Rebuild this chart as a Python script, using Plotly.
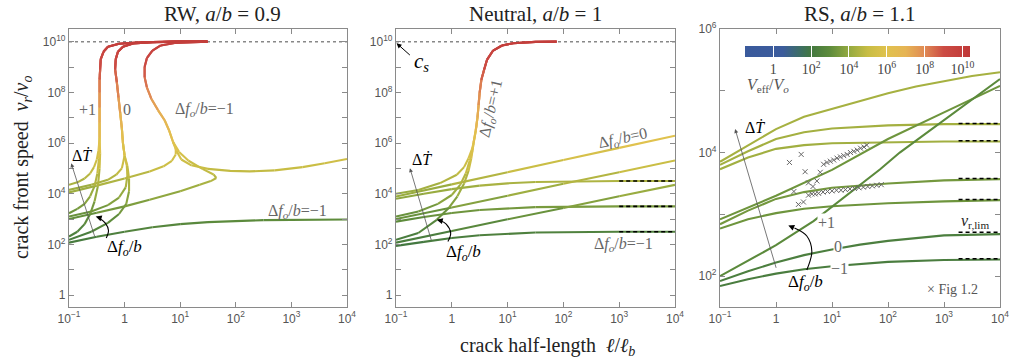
import numpy as np
import plotly.graph_objects as go

# =================== DATA (log10 exponents) ===================
# x = log10(l/l_b), y = log10(v_r/v_o)

# ---- Panel RW (a/b = 0.9) ----
RW_UP_PLUS_X = [-0.45, -0.45, -0.45, -0.45, -0.45, -0.44, -0.43, -0.38, -0.30, -0.10, 0.30, 0.90, 1.49]
RW_UP_PLUS_Y = [6.2, 6.8, 7.4, 8.0, 8.5, 8.9, 9.3, 9.6, 9.8, 9.92, 9.98, 10.0, 10.0]
RW_UP_ZERO_X = [0.00, -0.03, -0.05, -0.08, -0.11, -0.14, -0.17, -0.16, -0.12, -0.03, 0.15, 0.50, 1.00, 1.49]
RW_UP_ZERO_Y = [5.5, 6.0, 6.6, 7.2, 7.8, 8.4, 8.9, 9.3, 9.6, 9.8, 9.93, 9.98, 10.0, 10.0]
RW_UP_MINUS_X = [0.87, 0.80, 0.72, 0.60, 0.48, 0.40, 0.36, 0.36, 0.40, 0.50, 0.65, 0.90, 1.20, 1.49]
RW_UP_MINUS_Y = [6.05, 6.5, 6.9, 7.3, 7.75, 8.2, 8.6, 9.0, 9.35, 9.65, 9.85, 9.95, 9.99, 10.0]

RW_HI_PLUS_X = [-1.0, -0.85, -0.72, -0.62, -0.55, -0.50, -0.47]
RW_HI_PLUS_Y = [4.35, 4.45, 4.6, 4.8, 5.05, 5.35, 5.7]
RW_MID_PLUS_X = [-1.0, -0.85, -0.72, -0.62, -0.54, -0.49, -0.46]
RW_MID_PLUS_Y = [3.23, 3.4, 3.6, 3.9, 4.3, 4.8, 5.4]
RW_LO_PLUS_X = [-1.0, -0.85, -0.72, -0.62, -0.54, -0.48, -0.45, -0.44]
RW_LO_PLUS_Y = [2.31, 2.5, 2.8, 3.2, 3.7, 4.3, 5.0, 5.6]

RW_HI_ZERO_X = [-1.0, -0.6, -0.3, -0.15, -0.05]
RW_HI_ZERO_Y = [4.15, 4.35, 4.55, 4.75, 5.0]
RW_MID_ZERO_X = [-1.0, -0.6, -0.3, -0.1, 0.02, 0.05, 0.04]
RW_MID_ZERO_Y = [3.1, 3.3, 3.55, 3.85, 4.25, 4.7, 5.1]
RW_LO_ZERO_X = [-1.0, -0.6, -0.3, -0.1, 0.03, 0.08, 0.08, 0.05]
RW_LO_ZERO_Y = [2.18, 2.5, 2.85, 3.2, 3.6, 4.1, 4.6, 5.1]

RW_HI_MINUS_X = [-1.0, -0.5, 0.0, 0.45, 0.70, 0.85, 0.92, 0.92]
RW_HI_MINUS_Y = [4.05, 4.32, 4.6, 4.88, 5.08, 5.3, 5.55, 5.8]
RW_MID_MINUS_X = [-1.0, -0.5, 0.0, 0.45, 1.0, 1.35, 1.55, 1.65, 1.60, 1.40, 1.15, 0.98]
RW_MID_MINUS_Y = [3.0, 3.25, 3.5, 3.76, 4.1, 4.35, 4.5, 4.62, 4.76, 4.98, 5.3, 5.65]
RW_BRANCH_X = [0.87, 0.93, 1.02, 1.2, 1.5, 1.9, 2.25, 2.7, 3.2, 3.6, 4.0]
RW_BRANCH_Y = [6.05, 5.7, 5.35, 5.12, 4.98, 4.9, 4.88, 4.92, 5.05, 5.2, 5.37]
RW_LO_MINUS_X = [-1.0, -0.5, 0.0, 0.5, 1.0, 1.5, 2.0, 2.5, 3.0, 4.0]
RW_LO_MINUS_Y = [2.07, 2.3, 2.5, 2.68, 2.8, 2.88, 2.93, 2.96, 2.97, 2.98]

# ---- Panel Neutral (a/b = 1) ----
NE_UP_X = [0.39, 0.43, 0.46, 0.48, 0.50, 0.53, 0.58, 0.63, 0.74, 0.90, 1.10, 1.50, 1.88]
NE_UP_Y = [6.0, 6.5, 7.0, 7.5, 8.0, 8.5, 8.9, 9.28, 9.65, 9.85, 9.94, 9.99, 10.0]
NE_HI_PLUS_X = [-1.0, -0.6, -0.21, 0.09, 0.22, 0.30, 0.36]
NE_HI_PLUS_Y = [4.0, 4.15, 4.42, 4.75, 5.05, 5.4, 5.75]
NE_MID_PLUS_X = [-1.0, -0.6, -0.25, 0.0, 0.15, 0.25, 0.32, 0.37]
NE_MID_PLUS_Y = [3.1, 3.3, 3.6, 3.95, 4.35, 4.8, 5.3, 5.7]
NE_LO_PLUS_X = [-1.0, -0.6, -0.27, -0.05, 0.10, 0.22, 0.30, 0.35]
NE_LO_PLUS_Y = [2.18, 2.45, 2.97, 3.45, 3.9, 4.4, 4.9, 5.4]
NE_ZERO_X = [-1.0, 0.0, 1.0, 2.0, 3.0, 4.0]
NE_HI_ZERO_Y = [3.89, 4.37, 4.85, 5.33, 5.81, 6.29]
NE_MID_ZERO_Y = [3.0, 3.46, 3.92, 4.39, 4.85, 5.31]
NE_LO_ZERO_Y = [2.07, 2.53, 2.99, 3.44, 3.9, 4.35]
NE_MINUS_X = [-1.0, -0.5, 0.0, 0.5, 1.0, 1.5, 2.0, 3.0, 4.0]
NE_HI_MINUS_Y = [3.8, 4.0, 4.18, 4.32, 4.41, 4.46, 4.48, 4.5, 4.5]
NE_MID_MINUS_Y = [2.9, 3.08, 3.24, 3.36, 3.43, 3.47, 3.49, 3.5, 3.5]
NE_LO_MINUS_Y = [1.94, 2.1, 2.25, 2.36, 2.43, 2.47, 2.49, 2.5, 2.5]
NE_LIMIT_Y = [4.5, 3.5, 2.5]

# ---- Panel RS (a/b = 1.1) ----
RS_T1_X = [-1.0, -0.5, 0.0, 0.5, 1.0, 1.5, 2.0, 2.5, 3.0, 3.5, 4.0]
RS_T1_Y = [3.85, 4.12, 4.38, 4.58, 4.71, 4.83, 4.96, 5.07, 5.16, 5.24, 5.3]
RS_SAT_X = [-1.0, -0.5, 0.0, 0.5, 1.0, 1.5, 2.0, 3.0, 4.0]
RS_T2_Y = [3.8, 4.02, 4.22, 4.33, 4.39, 4.42, 4.44, 4.46, 4.46]
RS_T3_Y = [3.73, 3.92, 4.06, 4.12, 4.15, 4.16, 4.17, 4.18, 4.18]
RS_M0_Y = [2.84, 3.06, 3.25, 3.36, 3.43, 3.47, 3.5, 3.55, 3.57]
RS_M1_Y = [2.77, 2.92, 3.02, 3.09, 3.13, 3.16, 3.18, 3.21, 3.23]
RS_B0_Y = [1.92, 2.08, 2.22, 2.34, 2.43, 2.51, 2.57, 2.66, 2.68]
RS_B1_Y = [1.84, 1.95, 2.04, 2.11, 2.16, 2.2, 2.23, 2.26, 2.27]
RS_S1_X = [-1.0, 0.0, 1.0, 2.0, 3.0, 4.0]
RS_S1_Y = [2.92, 3.3, 3.72, 4.22, 4.65, 5.08]
RS_S2_X = [-1.0, 0.0, 0.67, 1.0, 1.86, 2.21, 2.9, 4.0]
RS_S2_Y = [2.0, 2.5, 2.89, 3.12, 3.73, 4.0, 4.46, 5.19]
# colour level of each RS curve, log10(V_eff/V_o): T1, T2, T3, M0, M1, B0, B1, S1, S2
RS_VEFF = [4.35, 4.3, 4.25, 3.4, 3.3, 2.35, 2.25, 3.3, 2.9]
RS_LIMIT_Y = [4.47, 4.19, 3.58, 3.24, 2.71, 2.28]
FIG12_X = [0.24, 0.45, 0.52, 0.79, 0.58, 0.66, 0.73, 0.32, 0.40, 0.49,
           0.85, 0.91, 0.97, 1.03, 1.09, 1.15, 1.21, 1.27, 1.33, 1.39, 1.45, 1.51, 1.57, 1.62,
           0.58, 0.64, 0.70, 0.76, 0.84, 0.92, 1.00, 1.08, 1.16, 1.24, 1.32, 1.40, 1.48, 1.56, 1.64, 1.72, 1.80, 1.88]
FIG12_Y = [3.84, 3.97, 3.69, 3.68, 3.51, 3.45, 3.54, 3.37, 3.16, 3.2,
           3.81, 3.84, 3.86, 3.88, 3.91, 3.93, 3.95, 3.97, 4.0, 4.02, 4.04, 4.07, 4.09, 4.12,
           3.31, 3.33, 3.33, 3.34, 3.36, 3.37, 3.38, 3.39, 3.39, 3.4, 3.41, 3.42, 3.43, 3.44, 3.45, 3.46, 3.47, 3.48]

CS_LIGHT = 10.0          # speed of shear waves, c_s (log10)
X_TICK_EXP = [-1, 0, 1, 2, 3, 4]
X_TICK_TEXT = ['10<sup>−1</sup>', '1', '10<sup>1</sup>', '10<sup>2</sup>', '10<sup>3</sup>', '10<sup>4</sup>']
Y12_TICK_EXP = list(range(0, 11))
Y3_TICK_EXP = [2, 3, 4, 5, 6]
CB_TICK_EXP = [0, 2, 4, 6, 8, 10]
CB_TICK_TEXT = ['1', '10<sup>2</sup>', '10<sup>4</sup>', '10<sup>6</sup>', '10<sup>8</sup>', '10<sup>10</sup>']

# =================== STYLE ===================
STOPS = [(-1.5, '#3a5a9c'), (0.5, '#3c5c9c'), (1.5, '#3d7060'), (2.0, '#437840'), (3.0, '#5e8c3c'),
         (4.0, '#94aa40'), (5.0, '#c8bd44'), (6.0, '#e0c24e'), (7.0, '#e6b454'), (8.0, '#e08a54'),
         (9.0, '#cc4c44'), (10.4, '#c03838')]
CMIN, CMAX = -1.5, 10.4
SERIF = 'Liberation Serif'
SANS = 'Liberation Sans'
AXC = '#8a8a8a'


def hex2rgb(h):
    return tuple(int(h[i:i + 2], 16) for i in (1, 3, 5))


def cmap(v):
    if v <= STOPS[0][0]:
        return STOPS[0][1]
    for (a, ca), (b, cb) in zip(STOPS[:-1], STOPS[1:]):
        if v <= b:
            t = (v - a) / (b - a)
            r1, r2 = hex2rgb(ca), hex2rgb(cb)
            return 'rgb(%d,%d,%d)' % tuple(round(r1[i] + (r2[i] - r1[i]) * t) for i in range(3))
    return STOPS[-1][1]


COLORSCALE = [[(v - CMIN) / (CMAX - CMIN), c] for v, c in STOPS]

fig = go.Figure()


def add_gradient(curves, ax):
    bins = {}
    for lx, ly in curves:
        cur, pts = None, []
        for i in range(len(lx) - 1):
            b = round((ly[i] + ly[i + 1]) / 2 * 10) / 10
            if b != cur:
                if pts:
                    bins.setdefault(cur, []).append(pts)
                pts = [(lx[i], ly[i])]
                cur = b
            pts.append((lx[i + 1], ly[i + 1]))
        if pts:
            bins.setdefault(cur, []).append(pts)
    for b in sorted(bins):
        xs, ys = [], []
        for run in bins[b]:
            xs += [10 ** p[0] for p in run] + [None]
            ys += [10 ** p[1] for p in run] + [None]
        fig.add_trace(go.Scatter(x=xs, y=ys, mode='lines', line=dict(color=cmap(b), width=2.1),
                                 xaxis='x' + ax, yaxis='y' + ax, showlegend=False, hoverinfo='skip'))


def join(a, b):
    return a + b


rw = [
    (join(RW_HI_PLUS_X, RW_UP_PLUS_X), join(RW_HI_PLUS_Y, RW_UP_PLUS_Y)),
    (join(RW_MID_PLUS_X, RW_UP_PLUS_X), join(RW_MID_PLUS_Y, RW_UP_PLUS_Y)),
    (join(RW_LO_PLUS_X, RW_UP_PLUS_X), join(RW_LO_PLUS_Y, RW_UP_PLUS_Y)),
    (join(RW_HI_ZERO_X, RW_UP_ZERO_X), join(RW_HI_ZERO_Y, RW_UP_ZERO_Y)),
    (join(RW_MID_ZERO_X, RW_UP_ZERO_X), join(RW_MID_ZERO_Y, RW_UP_ZERO_Y)),
    (join(RW_LO_ZERO_X, RW_UP_ZERO_X), join(RW_LO_ZERO_Y, RW_UP_ZERO_Y)),
    (join(RW_HI_MINUS_X, RW_UP_MINUS_X), join(RW_HI_MINUS_Y, RW_UP_MINUS_Y)),
    (join(RW_MID_MINUS_X, RW_UP_MINUS_X), join(RW_MID_MINUS_Y, RW_UP_MINUS_Y)),
    (RW_BRANCH_X, RW_BRANCH_Y),
    (RW_LO_MINUS_X, RW_LO_MINUS_Y),
]
ne = [
    (join(NE_HI_PLUS_X, NE_UP_X), join(NE_HI_PLUS_Y, NE_UP_Y)),
    (join(NE_MID_PLUS_X, NE_UP_X), join(NE_MID_PLUS_Y, NE_UP_Y)),
    (join(NE_LO_PLUS_X, NE_UP_X), join(NE_LO_PLUS_Y, NE_UP_Y)),
    (NE_ZERO_X, NE_HI_ZERO_Y), (NE_ZERO_X, NE_MID_ZERO_Y), (NE_ZERO_X, NE_LO_ZERO_Y),
    (NE_MINUS_X, NE_HI_MINUS_Y), (NE_MINUS_X, NE_MID_MINUS_Y), (NE_MINUS_X, NE_LO_MINUS_Y),
]
rs = [
    (RS_T1_X, RS_T1_Y), (RS_SAT_X, RS_T2_Y), (RS_SAT_X, RS_T3_Y),
    (RS_SAT_X, RS_M0_Y), (RS_SAT_X, RS_M1_Y), (RS_SAT_X, RS_B0_Y), (RS_SAT_X, RS_B1_Y),
    (RS_S1_X, RS_S1_Y), (RS_S2_X, RS_S2_Y),
]

# dotted c_s line in panels 1,2
for ax in ['', '2']:
    fig.add_trace(go.Scatter(x=[10 ** -1, 10 ** 4], y=[10 ** CS_LIGHT] * 2, mode='lines',
                             line=dict(color='#888', width=1.5, dash='dot'),
                             xaxis='x' + ax, yaxis='y' + ax, showlegend=False, hoverinfo='skip'))

add_gradient(rw, '')
add_gradient(ne, '2')
for (lx, ly), lev in zip(rs, RS_VEFF):
    fig.add_trace(go.Scatter(x=[10 ** v for v in lx], y=[10 ** v for v in ly], mode='lines',
                             line=dict(color=cmap(lev), width=2.1),
                             xaxis='x3', yaxis='y3', showlegend=False, hoverinfo='skip'))

# dashed limits
xs, ys = [], []
for v in NE_LIMIT_Y:
    xs += [10 ** 3, 10 ** 4, None]
    ys += [10 ** v, 10 ** v, None]
fig.add_trace(go.Scatter(x=xs, y=ys, mode='lines', line=dict(color='black', width=1.6, dash='4px,3px'),
                         xaxis='x2', yaxis='y2', showlegend=False, hoverinfo='skip'))
xs, ys = [], []
for v in RS_LIMIT_Y:
    xs += [10 ** 3.26, 10 ** 4, None]
    ys += [10 ** v, 10 ** v, None]
fig.add_trace(go.Scatter(x=xs, y=ys, mode='lines', line=dict(color='black', width=1.6, dash='4px,3px'),
                         xaxis='x3', yaxis='y3', showlegend=False, hoverinfo='skip'))

# Fig 1.2 markers
fig.add_trace(go.Scatter(x=[10 ** v for v in FIG12_X], y=[10 ** v for v in FIG12_Y], mode='markers',
                         marker=dict(symbol='x-thin', size=5, line=dict(width=1, color='#666')),
                         xaxis='x3', yaxis='y3', showlegend=False, hoverinfo='skip'))

# curved Δf arrows (drawn as splines)
CURVES_ARROW = {
    '': ([-0.33, -0.29, -0.35, -0.47], [2.25, 2.55, 2.85, 3.05]),
    '2': ([-0.07, -0.02, -0.10, -0.20], [2.11, 2.45, 2.80, 2.93]),
    '3': ([0.55, 0.64, 0.55, 0.33], [2.10, 2.40, 2.65, 2.78]),
}
for ax, (cx, cy) in CURVES_ARROW.items():
    fig.add_trace(go.Scatter(x=[10 ** v for v in cx], y=[10 ** v for v in cy], mode='lines',
                             line=dict(color='black', width=1.1, shape='spline'),
                             xaxis='x' + ax, yaxis='y' + ax, showlegend=False, hoverinfo='skip'))

# colorbar carrier
fig.add_trace(go.Scatter(x=[1e-6], y=[1e-6], mode='markers', xaxis='x3', yaxis='y3',
                         marker=dict(color=[0], colorscale=COLORSCALE, cmin=CMIN, cmax=CMAX, size=1,
                                     showscale=True,
                                     colorbar=dict(orientation='h', x=857.5 / 1011, xanchor='center',
                                                   y=1 - 46.5 / 362, yanchor='top', len=225, lenmode='pixels',
                                                   thickness=11, thicknessmode='pixels', outlinewidth=0,
                                                   xpad=0, ypad=0, tickmode='array', tickvals=CB_TICK_EXP,
                                                   ticktext=CB_TICK_TEXT, ticks='inside', ticklen=11,
                                                   tickcolor='white', tickwidth=1,
                                                   tickfont=dict(family=SERIF, size=14, color='#444'))),
                         showlegend=False, hoverinfo='skip'))

TICKFONT = dict(family=SANS, size=12, color='#555')


def xaxis(dom, anchor):
    return dict(type='log', range=[-1, 4], domain=dom, anchor=anchor, showline=True, linecolor=AXC,
                linewidth=1.2, mirror='ticks', ticks='inside', ticklen=5, tickcolor=AXC,
                tickmode='array', tickvals=[10 ** v for v in X_TICK_EXP], ticktext=X_TICK_TEXT,
                tickfont=TICKFONT, showgrid=False, zeroline=False, automargin=False)


def yaxis(dom, anchor, rng, exps, labelled):
    return dict(type='log', range=rng, domain=dom, anchor=anchor, showline=True, linecolor=AXC,
                linewidth=1.2, mirror='ticks', ticks='inside', ticklen=5, tickcolor=AXC,
                tickmode='array', tickvals=[10 ** v for v in exps],
                ticktext=[('1' if v == 0 else '10<sup>%d</sup>' % v) if v in labelled else '' for v in exps],
                tickfont=TICKFONT, showgrid=False, zeroline=False, automargin=False)


YDOM = [1 - 307 / 362, 1 - 29 / 362]
fig.update_layout(
    width=1011, height=362, margin=dict(l=0, r=0, t=0, b=0, autoexpand=False),
    plot_bgcolor='white', paper_bgcolor='white', showlegend=False,
    xaxis=xaxis([69 / 1011, 347 / 1011], 'y'),
    xaxis2=xaxis([396 / 1011, 675 / 1011], 'y2'),
    xaxis3=xaxis([720 / 1011, 1000 / 1011], 'y3'),
    yaxis=yaxis(YDOM, 'x', [-0.47, 10.5], Y12_TICK_EXP, [0, 2, 4, 6, 8, 10]),
    yaxis2=yaxis(YDOM, 'x2', [-0.47, 10.5], Y12_TICK_EXP, [0, 2, 4, 6, 8, 10]),
    yaxis3=yaxis(YDOM, 'x3', [1.5, 6], Y3_TICK_EXP, [2, 4, 6]),
)

ann = []


def text(ax, x, y, s, size=15, color='#666', **kw):
    d = dict(xref='x' + ax, yref='y' + ax, x=x, y=y, text=s, showarrow=False,
             xanchor='center', yanchor='middle', font=dict(family=SERIF, size=size, color=color))
    d.update(kw)
    ann.append(d)


def arrow(ax, x, y, tx, ty, color='#555', width=0.8, size=1.0):
    ann.append(dict(xref='x' + ax, yref='y' + ax, axref='x' + ax, ayref='y' + ax, x=x, y=y, ax=tx, ay=ty,
                    text='', showarrow=True, arrowhead=2, arrowsize=size, arrowwidth=width,
                    arrowcolor=color, standoff=0, startstandoff=0))


DF = 'Δ<i>f</i><sub><i>o</i></sub>/<i>b</i>'
DT = 'Δ<i>Ṫ</i>'

# panel 1
text('', -0.67, 7.31, '+1', 16)
text('', 0.04, 7.31, '0', 16)
text('', 1.44, 7.31, DF + '=−1', 16)
text('', 3.11, 3.3, DF + '=−1', 16)
text('', -0.77, 5.5, DT, 16, 'black')
arrow('', -0.96, 5.2, -0.53, 2.26)
text('', 0.0, 1.85, DF, 17, 'black')
arrow('', -0.52, 3.1, -0.46, 3.06, 'black', 1.0, 1.2)

# panel 2
text('2', 0.70, 7.38, DF + '=+1', 16, textangle=-77)
text('2', 3.07, 6.17, DF + '=0', 16, textangle=-12)
text('2', 3.07, 1.98, DF + '=−1', 16)
text('2', -0.54, 9.2, '<i>c<sub>s</sub></i>', 21, 'black')
arrow('2', -0.99, 9.94, -0.725, 9.42, 'black', 1.0, 1.0)
text('2', -0.54, 5.34, DT, 16, 'black')
arrow('2', -0.75, 5.01, -0.36, 2.11)
text('2', 0.21, 1.65, DF, 17, 'black')
arrow('2', -0.27, 2.97, -0.19, 2.93, 'black', 1.0, 1.2)

# panel 3
text('3', -0.375, 4.41, DT, 16, 'black')
arrow('3', -0.73, 4.38, 0.01, 2.11)
text('3', 0.9, 2.87, '+1', 16, bgcolor='white', borderpad=0)
text('3', 1.11, 2.48, '0', 16, bgcolor='white', borderpad=0)
text('3', 1.14, 2.12, '−1', 16, bgcolor='white', borderpad=0)
text('3', 0.52, 1.89, DF, 17, 'black')
arrow('3', 0.22, 2.82, 0.31, 2.785, 'black', 1.0, 1.2)
text('3', 3.55, 2.88, '<i>v</i><sub>r,lim</sub>', 16, '#222')
text('3', 3.15, 1.78, '× Fig 1.2', 14, '#555')


# paper texts (pixel positions converted to paper fractions)
def ptext(x, y, s, size, color='#222', **kw):
    d = dict(xref='paper', yref='paper', x=x / 1011, y=1 - y / 362, text=s, showarrow=False,
             xanchor='center', yanchor='middle', font=dict(family=SERIF, size=size, color=color))
    d.update(kw)
    ann.append(d)


ptext(222, 14, 'RW, <i>a</i>/<i>b</i> = 0.9', 21)
ptext(535, 14, 'Neutral, <i>a</i>/<i>b</i> = 1', 21)
ptext(860, 14, 'RS, <i>a</i>/<i>b</i> = 1.1', 21)
ptext(22, 167, 'crack front speed  <i>v</i><sub><i>r</i></sub>/<i>v</i><sub><i>o</i></sub>', 20, textangle=-90)
ptext(547, 346, 'crack half-length  <i>ℓ</i>/<i>ℓ</i><sub><i>b</i></sub>', 20)
ptext(745, 85, '<i>V</i><sub>eff</sub>/<i>V</i><sub><i>o</i></sub>', 16, '#555', xanchor='left')

fig.update_layout(annotations=ann)
fig.write_html('out.html', config={'displayModeBar': False},
               post_script="document.body.style.margin='0';document.body.style.padding='0';")
